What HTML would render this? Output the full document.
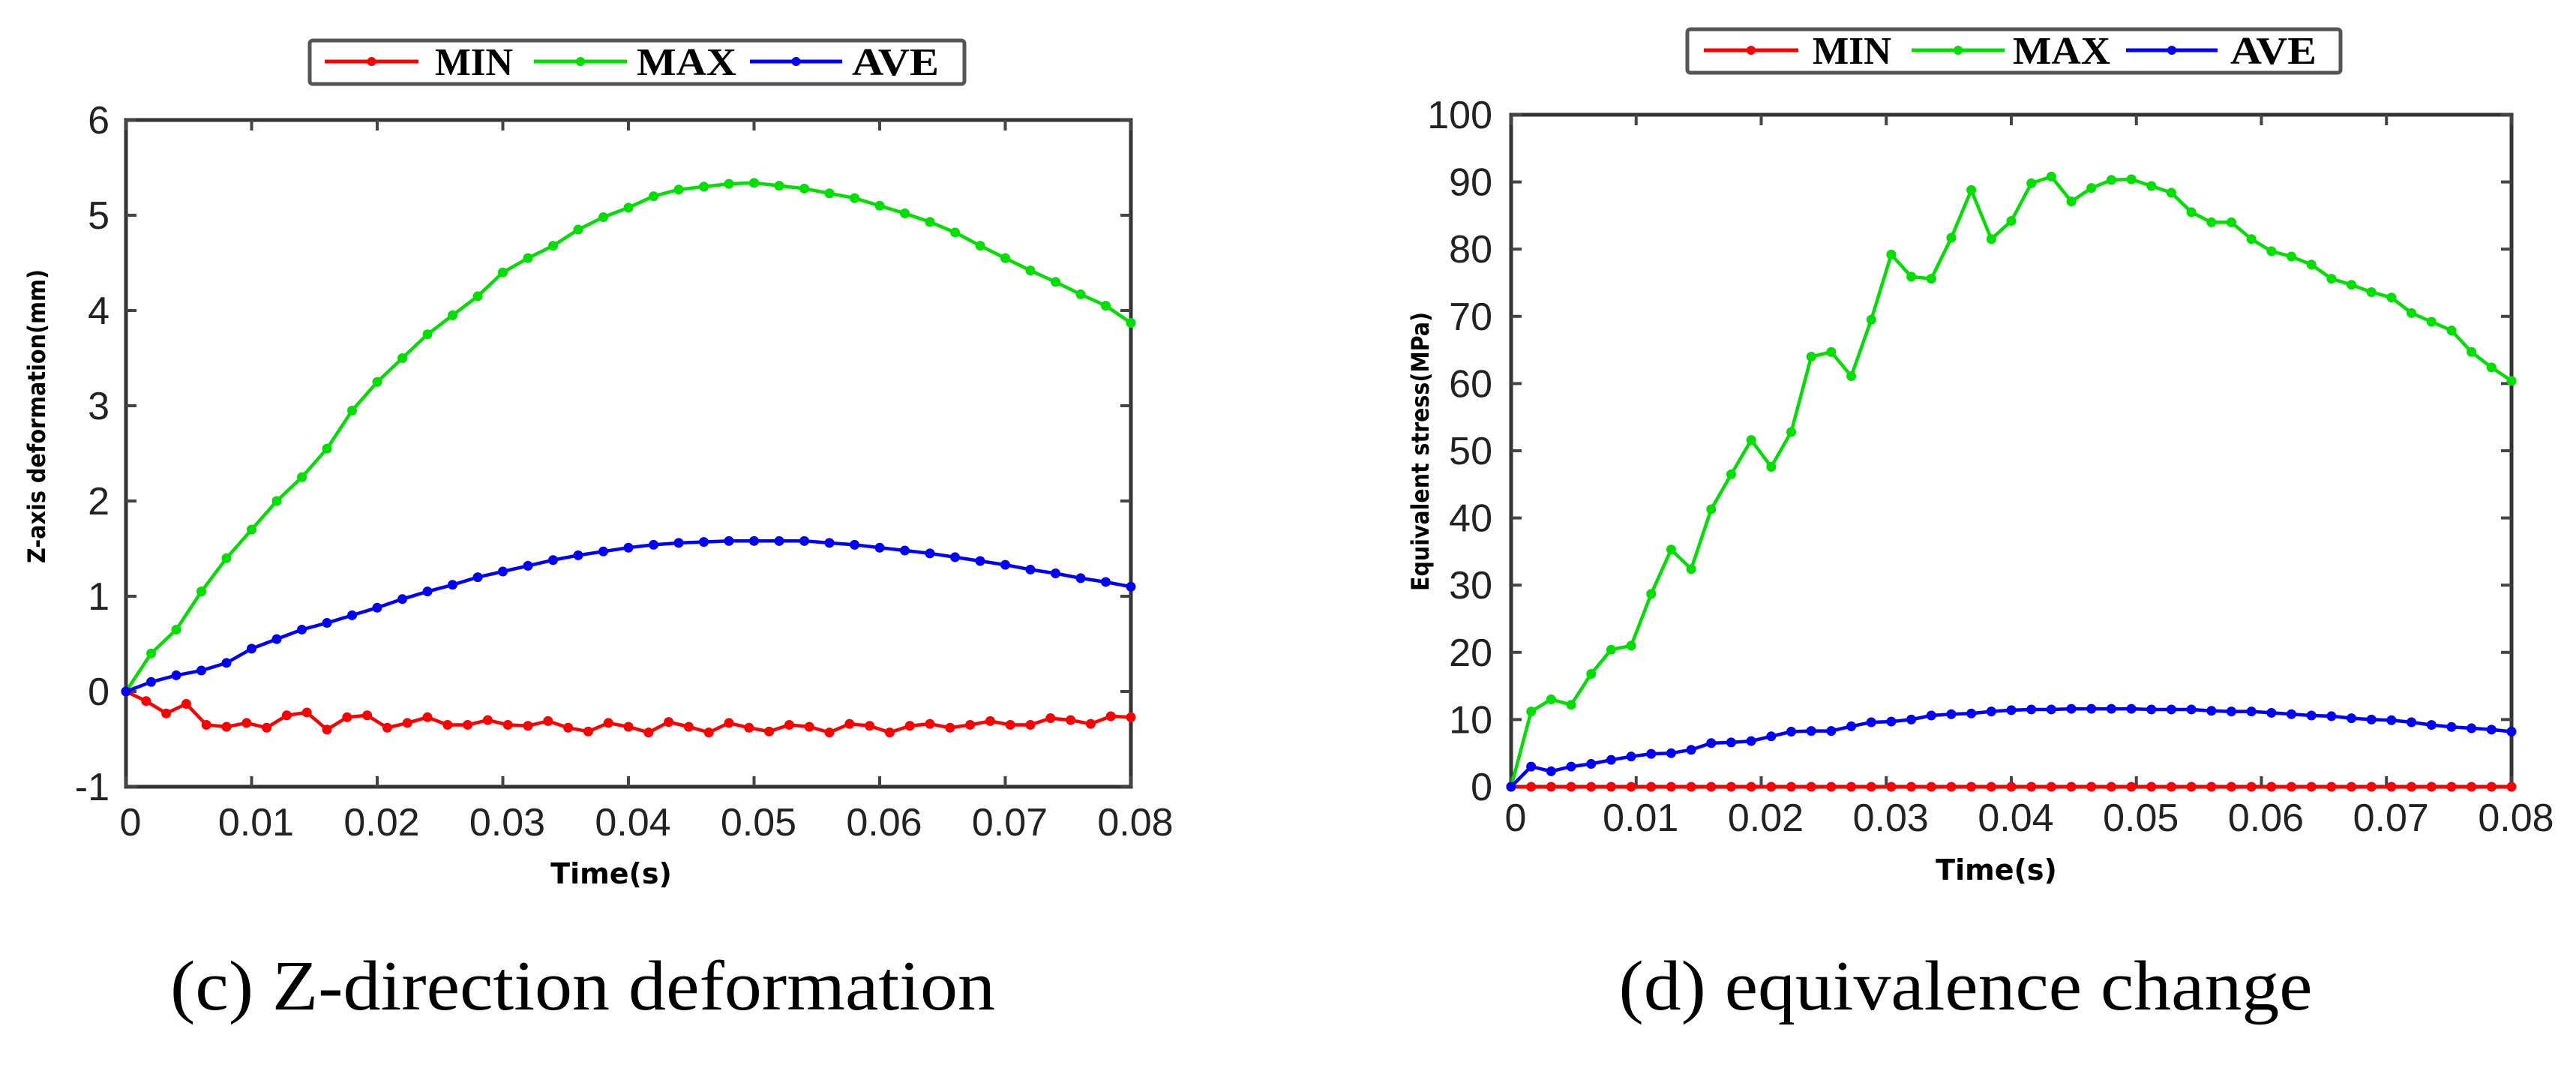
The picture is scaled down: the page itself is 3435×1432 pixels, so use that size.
<!DOCTYPE html>
<html><head><meta charset="utf-8"><style>
html,body{margin:0;padding:0;background:#fff;}
svg{display:block;}
</style></head><body>
<svg id="fig" width="3435" height="1432" viewBox="0 0 3435 1432" xmlns="http://www.w3.org/2000/svg">
<g id="chartC"></g>
<g id="chartD"></g>
<text x="777" y="1346" text-anchor="middle" font-family="Liberation Serif, serif" font-size="94" textLength="1100" lengthAdjust="spacingAndGlyphs">(c) Z-direction deformation</text>
<text x="2621" y="1346" text-anchor="middle" font-family="Liberation Serif, serif" font-size="94" textLength="925" lengthAdjust="spacingAndGlyphs">(d) equivalence change</text>
</svg>
<script>
// ---- chart (c) data ----
const cXTicks = [0,0.01,0.02,0.03,0.04,0.05,0.06,0.07,0.08];
const cXTickLabels = ["0","0.01","0.02","0.03","0.04","0.05","0.06","0.07","0.08"];
const cYTicks = [-1,0,1,2,3,4,5,6];
const cYTickLabels = ["-1","0","1","2","3","4","5","6"];
const cMin = [0,-0.1,-0.23,-0.13,-0.35,-0.37,-0.33,-0.38,-0.25,-0.22,-0.4,-0.27,-0.25,-0.38,-0.33,-0.27,-0.35,-0.35,-0.3,-0.35,-0.36,-0.31,-0.38,-0.42,-0.33,-0.37,-0.43,-0.32,-0.37,-0.43,-0.33,-0.38,-0.42,-0.35,-0.37,-0.43,-0.34,-0.36,-0.43,-0.36,-0.34,-0.38,-0.35,-0.31,-0.35,-0.35,-0.28,-0.3,-0.34,-0.26,-0.27];
const cMax = [0,0.4,0.65,1.05,1.4,1.7,2.0,2.25,2.55,2.95,3.25,3.5,3.75,3.95,4.15,4.4,4.55,4.68,4.85,4.98,5.08,5.2,5.27,5.3,5.33,5.34,5.31,5.28,5.23,5.18,5.1,5.02,4.93,4.82,4.68,4.55,4.42,4.3,4.17,4.05,3.87];
const cAve = [0,0.1,0.17,0.22,0.3,0.45,0.55,0.65,0.72,0.8,0.88,0.97,1.05,1.12,1.2,1.26,1.32,1.38,1.43,1.47,1.51,1.54,1.56,1.57,1.58,1.58,1.58,1.58,1.56,1.54,1.51,1.48,1.45,1.41,1.37,1.33,1.28,1.24,1.19,1.15,1.1];
// ---- chart (d) data ----
const dXTicks = [0,0.01,0.02,0.03,0.04,0.05,0.06,0.07,0.08];
const dXTickLabels = ["0","0.01","0.02","0.03","0.04","0.05","0.06","0.07","0.08"];
const dYTicks = [0,10,20,30,40,50,60,70,80,90,100];
const dYTickLabels = ["0","10","20","30","40","50","60","70","80","90","100"];
const dMin = [0,0,0,0,0,0,0,0,0,0,0,0,0,0,0,0,0,0,0,0,0,0,0,0,0,0,0,0,0,0,0,0,0,0,0,0,0,0,0,0,0,0,0,0,0,0,0,0,0,0,0];
const dMax = [0,11.2,13,12.2,16.8,20.4,21,28.7,35.3,32.4,41.3,46.5,51.6,47.6,52.8,64,64.7,61.1,69.5,79.2,75.9,75.6,81.7,88.8,81.5,84.2,89.8,90.8,87.1,89.1,90.3,90.4,89.4,88.4,85.5,84,84,81.5,79.7,78.9,77.7,75.6,74.7,73.6,72.8,70.5,69.2,67.9,64.7,62.4,60.4];
const dAve = [0,3,2.3,3,3.4,4,4.5,4.9,5,5.5,6.5,6.6,6.8,7.5,8.2,8.3,8.3,9,9.6,9.7,10,10.6,10.8,10.9,11.2,11.4,11.5,11.5,11.6,11.6,11.6,11.6,11.5,11.5,11.5,11.3,11.2,11.2,11.0,10.8,10.6,10.5,10.2,10,9.9,9.6,9.2,8.9,8.7,8.5,8.2];
const seriesNames = ["MIN","MAX","AVE"];
const colors = ["#ff0000","#00e000","#0000ff"];
const NS = "http://www.w3.org/2000/svg";
function mk(parent, tag, attrs, txt){
  const e = document.createElementNS(NS, tag);
  for (const k in attrs) e.setAttribute(k, attrs[k]);
  if (txt !== undefined) e.textContent = txt;
  parent.appendChild(e); return e;
}
function drawChart(g, cfg){
  const L=cfg.left,R=cfg.right,T=cfg.top,B=cfg.bottom;
  const sx = v => L + (v - cfg.xMin)/(cfg.xMax-cfg.xMin)*(R-L);
  const sy = v => B - (v - cfg.yMin)/(cfg.yMax-cfg.yMin)*(B-T);
  // legend
  const lg = mk(g,'g',{});
  
  
  const lb = mk(lg,'rect',{x:cfg.leg.x,y:cfg.leg.y,width:cfg.leg.w,height:cfg.leg.h,fill:'#fff',stroke:'#555','stroke-width':5,rx:4});
  
  
  cfg.leg.items.forEach((it,i)=>{
    const eg = mk(lg,'g',{});
    
    
    mk(eg,'line',{x1:it[0],x2:it[1],y1:cfg.leg.cy,y2:cfg.leg.cy,stroke:colors[i],'stroke-width':5});
    mk(eg,'circle',{cx:(it[0]+it[1])/2,cy:cfg.leg.cy,r:6,fill:colors[i]});
    mk(eg,'text',{x:it[2],y:cfg.leg.cy+18,'font-family':'Liberation Serif, serif','font-weight':'bold','font-size':52,textLength:it[3]-it[2],lengthAdjust:'spacingAndGlyphs'},seriesNames[i]);
  });
  // frame
  const fr = mk(g,'rect',{x:L,y:T,width:R-L,height:B-T,fill:'none',stroke:'#333','stroke-width':5});
  
  
  // ticks
  cfg.xTicks.forEach((v,i)=>{
    const x=sx(v);
    mk(g,'line',{x1:x,x2:x,y1:B,y2:B-14,stroke:'#444','stroke-width':4});
    mk(g,'line',{x1:x,x2:x,y1:T,y2:T+14,stroke:'#444','stroke-width':4});
    const t=mk(g,'text',{x:x+6,y:cfg.xLabY,'text-anchor':'middle','font-family':'Liberation Sans, sans-serif','font-size':52,fill:'#222'},cfg.xTickLabels[i]);
    
    
  });
  cfg.yTicks.forEach((v,i)=>{
    const y=sy(v);
    mk(g,'line',{x1:L,x2:L+14,y1:y,y2:y,stroke:'#444','stroke-width':4});
    mk(g,'line',{x1:R,x2:R-14,y1:y,y2:y,stroke:'#444','stroke-width':4});
    const t=mk(g,'text',{x:cfg.yLabX,y:y+18,'text-anchor':'end','font-family':'Liberation Sans, sans-serif','font-size':52,fill:'#222'},cfg.yTickLabels[i]);
    
    
  });
  // axis titles
  const xt=mk(g,'text',{x:cfg.xTitle[0],y:cfg.xTitle[1],'text-anchor':'middle','font-family':'DejaVu Sans, sans-serif','font-weight':'bold','font-size':38},'Time(s)');
  
  
  const yt=mk(g,'text',{x:0,y:0,'text-anchor':'middle','font-family':'DejaVu Sans, sans-serif','font-weight':'bold','font-size':32,transform:'translate('+cfg.yTitle[0]+','+cfg.yTitle[1]+') rotate(-90)',textLength:cfg.yTitle[2],lengthAdjust:'spacingAndGlyphs'},cfg.yTitleText);
  
  
  // series
  cfg.series.forEach((vals,si)=>{
    const sg=mk(g,'g',{});
    
    
    const n=vals.length;
    const pts=vals.map((v,i)=>[sx(cfg.xMin+i*(cfg.xMax-cfg.xMin)/(n-1)),sy(v)]);
    mk(sg,'polyline',{points:pts.map(p=>p[0].toFixed(1)+','+p[1].toFixed(1)).join(' '),fill:'none',stroke:colors[si],'stroke-width':4.5,'stroke-linejoin':'round'});
    pts.forEach(p=>{
      const c=mk(sg,'circle',{cx:p[0],cy:p[1],r:6.5,fill:colors[si]});
      
      
    });
  });
}
drawChart(document.getElementById('chartC'),{
  left:168,right:1508,top:160,bottom:1049,xMin:0,xMax:0.08,yMin:-1,yMax:6,
  xTicks:cXTicks,xTickLabels:cXTickLabels,yTicks:cYTicks,yTickLabels:cYTickLabels,
  xLabY:1114,yLabX:146,xTitle:[815,1178],yTitle:[60,555,392],yTitleText:'Z-axis deformation(mm)',
  series:[cMin,cMax,cAve],
  leg:{x:413,y:54,w:873,h:58,cy:82,items:[[433,558,580,684],[712,836,849,982],[1000,1123,1136,1252]]}
});
drawChart(document.getElementById('chartD'),{
  left:2015,right:3349,top:153,bottom:1049,xMin:0,xMax:0.08,yMin:0,yMax:100,
  xTicks:dXTicks,xTickLabels:dXTickLabels,yTicks:dYTicks,yTickLabels:dYTickLabels,
  xLabY:1108,yLabX:1990,xTitle:[2662,1173],yTitle:[1905,602,372],yTitleText:'Equivalent stress(MPa)',
  series:[dMin,dMax,dAve],
  leg:{x:2250,y:39,w:871,h:58,cy:67,items:[[2272,2398,2417,2522],[2549,2673,2684,2814],[2835,2957,2974,3089]]}
});
</script>
</body></html>
